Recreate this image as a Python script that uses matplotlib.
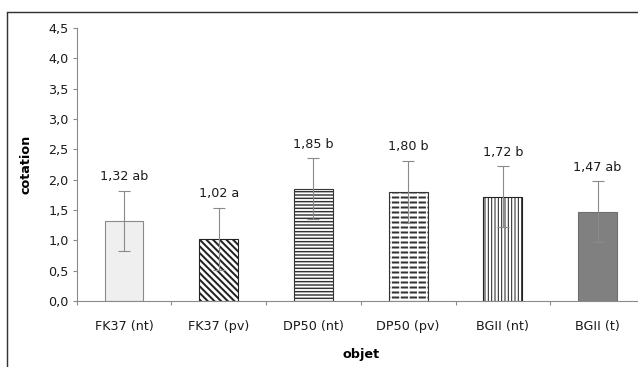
import numpy as np
import matplotlib
matplotlib.use("Agg")
import matplotlib.pyplot as plt
import matplotlib.hatch as mhatch
from matplotlib.patches import Rectangle

# data
categories = ["FK37 (nt)", "FK37 (pv)", "DP50 (nt)", "DP50 (pv)", "BGII (nt)", "BGII (t)"]
means = [1.32, 1.02, 1.85, 1.80, 1.72, 1.47]
errors = [0.50, 0.51, 0.50, 0.51, 0.50, 0.50]
groups = ["ab", "a", "b", "b", "b", "ab"]
yticks = [0.0, 0.5, 1.0, 1.5, 2.0, 2.5, 3.0, 3.5, 4.0, 4.5]


class DashRows(mhatch.HatchPatternBase):
    """Rows of short dashes, drawn for '*' in a hatch string."""

    def __init__(self, hatch, density):
        n = hatch.count("*")
        self.rows = 16 * n
        self.per_row = 9 * n
        self.num_vertices = self.rows * self.per_row * 2

    def set_vertices_and_codes(self, vertices, codes):
        ys = (np.arange(self.rows) + 0.5) / self.rows
        xs = np.arange(self.per_row) / self.per_row
        step = 1.0 / self.per_row
        yy, xx = np.meshgrid(ys, xs, indexing="ij")
        x0 = (xx + 0.2 * step).ravel()
        x1 = (xx + 0.8 * step).ravel()
        y = yy.ravel()
        vertices[0::2, 0] = x0
        vertices[0::2, 1] = y
        vertices[1::2, 0] = x1
        vertices[1::2, 1] = y
        codes[0::2] = mhatch.Path.MOVETO
        codes[1::2] = mhatch.Path.LINETO


mhatch._hatch_types = [t for t in mhatch._hatch_types if t is not mhatch.Stars] + [DashRows]

plt.rcParams["font.family"] = ["DejaVu Sans"]
FS = 11.5

DPI = 80
fig = plt.figure(figsize=(638 / DPI, 367 / DPI), dpi=DPI)
fig.patch.set_facecolor("white")

# outer frame (cropped on the right and bottom in the reference)
fig.patches.append(Rectangle((7 / 638, -0.2), 1.2, 1.2 - 12 / 367,
                             transform=fig.transFigure, fill=False,
                             edgecolor="#333333", linewidth=1.3))

ax = fig.add_axes([76.6 / 638, 66 / 367, (645 - 76.6) / 638, 273 / 367])

x = np.arange(len(categories))
styles = [
    dict(color="#efefef", edgecolor="#8a8a8a", hatch=None, hlw=1.0),
    dict(color="white", edgecolor="#222222", hatch="\\" * 4, hlw=1.8),
    dict(color="white", edgecolor="#333333", hatch="----", hlw=1.3),
    dict(color="white", edgecolor="#333333", hatch="*", hlw=1.8),
    dict(color="white", edgecolor="#222222", hatch="||||", hlw=0.9),
    dict(color="#808080", edgecolor="#6e6e6e", hatch=None, hlw=1.0),
]

for i, st in enumerate(styles):
    plt.rcParams["hatch.linewidth"] = st["hlw"]
    ax.bar(x[i], means[i], width=0.41, color=st["color"],
           edgecolor=st["edgecolor"], hatch=st["hatch"], linewidth=1.0, zorder=2)

ax.errorbar(x, means, yerr=errors, fmt="none", ecolor="#8a8a8a",
            elinewidth=1.0, capsize=5, capthick=1.0, zorder=3)

for xi, m, e, g in zip(x, means, errors, groups):
    label = f"{m:.2f}".replace(".", ",") + " " + g
    ax.annotate(label, (xi, m + e), xytext=(0, 7), textcoords="offset points",
                ha="center", va="bottom", fontsize=FS, color="#1a1a1a")

ax.set_xlim(-0.5, len(categories) - 0.5)
ax.set_ylim(0, 4.5)
ax.set_yticks(yticks)
ax.set_yticklabels([f"{t:.1f}".replace(".", ",") for t in yticks])
ax.set_xticks(x)
ax.set_xticklabels(categories)
ax.set_xticks(np.arange(len(categories) + 1) - 0.5, minor=True)

for side in ["top", "right"]:
    ax.spines[side].set_visible(False)
for side in ["left", "bottom"]:
    ax.spines[side].set_color("#8a8a8a")
    ax.spines[side].set_linewidth(1.0)

ax.tick_params(axis="y", direction="out", length=4, width=1, color="#8a8a8a",
               pad=3, labelsize=FS, labelcolor="#1a1a1a")
ax.tick_params(axis="x", which="major", length=0, pad=17,
               labelsize=FS, labelcolor="#1a1a1a")
ax.tick_params(axis="x", which="minor", direction="out", length=4, width=1,
               color="#8a8a8a")

ax.set_ylabel("cotation", fontsize=FS, fontweight="bold", labelpad=14)
ax.set_xlabel("objet", fontsize=FS, fontweight="bold", labelpad=14)

fig.savefig("out.png", dpi=DPI)
